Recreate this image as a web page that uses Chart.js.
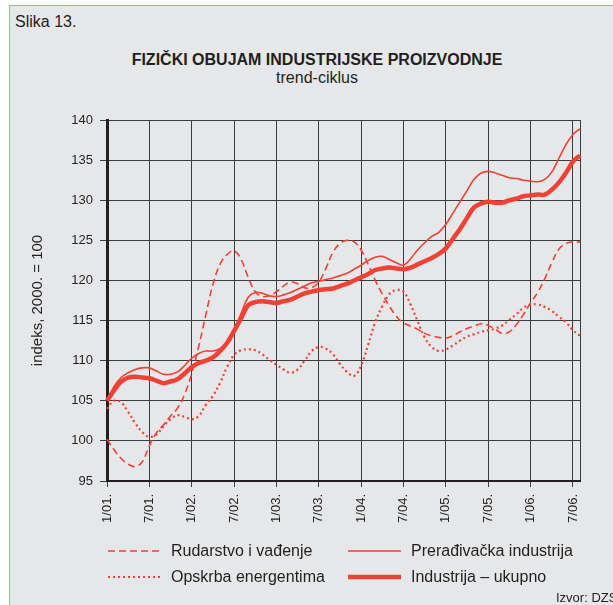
<!DOCTYPE html>
<html lang="hr">
<head>
<meta charset="UTF-8" />
<title>Slika 13. Fizički obujam industrijske proizvodnje</title>
<script src="https://cdn.jsdelivr.net/npm/chart.js"></script>
<style>
  body { margin: 0; width: 613px; height: 605px; position: relative; overflow: hidden;
         background: #ffffff; font-family: "Liberation Sans", Arial, sans-serif; color: #231f20; }
  #panel { position: absolute; left: 9px; top: 5px; width: 640px; height: 640px;
           background: #e6e7e8; border: 1px solid #f0928c; }
  .txt { position: absolute; white-space: nowrap; }
  #chartBox { position: absolute; left: 0; top: 0; }
  .leg { position: absolute; display: flex; align-items: center; font-size: 16px; height: 20px; }
  .leg svg { margin-right: 10px; }
</style>
</head>
<body>
<div id="panel"></div>
<div class="txt" style="left:15px; top:13px; font-size:16px;">Slika 13.</div>
<div class="txt" style="left:0; width:634px; top:51px; text-align:center; font-size:16px; font-weight:bold;">FIZIČKI OBUJAM INDUSTRIJSKE PROIZVODNJE</div>
<div class="txt" style="left:0; width:634px; top:69px; text-align:center; font-size:16px;">trend-ciklus</div>
<canvas id="chartBox" width="613" height="545"></canvas>
<div id="legend"></div>
<div class="txt" style="left:556px; top:590px; font-size:13px;">Izvor: DZS</div>

<script>
  // mjeseci 1/01. - 8/06.
  const months = [];
  for (let y = 1; y <= 6; y++) {
    for (let m = 1; m <= 12; m++) months.push(m + "/0" + y + ".");
  }
  months.length = 68;

  const tickLabels = ["1/01.", "7/01.", "1/02.", "7/02.", "1/03.", "7/03.", "1/04.", "7/04.", "1/05.", "7/05.", "1/06.", "7/06."];
  const yTicks = [95, 100, 105, 110, 115, 120, 125, 130, 135, 140];

  const seriesNames = ["Rudarstvo i vađenje", "Prerađivačka industrija", "Opskrba energentima", "Industrija – ukupno"];

  const rudarstvo = [
    100.2, 98.9, 97.8, 97.1, 96.8, 97.4, 99.4, 101.0, 102.0, 103.1, 104.1, 105.8,
    108.4, 111.8, 115.7, 119.5, 122.0, 123.2, 123.7, 122.6, 120.4, 118.6, 118.0, 118.1,
    118.6, 119.3, 119.8, 119.6, 119.1, 119.1, 119.8, 121.5, 123.5, 124.6, 125.0, 124.8,
    123.8, 122.0, 120.0, 118.3, 116.8, 115.5, 114.7, 114.3, 113.9, 113.4, 113.1, 112.9,
    112.8, 113.1, 113.6, 114.0, 114.3, 114.6, 114.4, 113.9, 113.4, 113.6, 114.5, 115.8,
    117.2, 118.5, 120.2, 122.2, 123.9, 124.6, 124.8, 124.8
  ];
  const preradjivacka = [
    105.0, 106.8, 107.9, 108.5, 108.9, 109.1, 109.1, 108.7, 108.3, 108.3, 108.6, 109.4,
    110.3, 110.9, 111.2, 111.2, 111.5, 112.3, 113.8, 115.9, 117.9, 118.5, 118.4, 118.1,
    118.0, 118.2, 118.5, 118.9, 119.3, 119.7, 119.9, 120.1, 120.3, 120.6, 120.9, 121.4,
    121.9, 122.5, 122.9, 123.0, 122.6, 122.2, 121.9, 122.7, 123.8, 124.7, 125.5, 126.0,
    127.0, 128.4, 129.8, 131.2, 132.6, 133.4, 133.6, 133.4, 133.1, 132.8, 132.7, 132.5,
    132.4, 132.3, 132.6, 133.5, 135.2, 136.9, 138.2, 138.9
  ];
  const opskrba = [
    104.0, 105.0, 104.8, 103.6, 102.2, 101.1, 100.5, 100.8, 101.8, 102.7, 103.2, 103.0,
    102.7, 103.1, 104.5, 105.6, 107.2, 109.2, 110.7, 111.3, 111.4, 111.3, 110.8, 110.1,
    109.5, 108.9, 108.5, 108.9, 110.0, 111.2, 111.7, 111.5, 110.8, 109.6, 108.6, 108.1,
    109.4, 112.0, 114.8, 116.8, 118.3, 118.8, 118.6, 117.0, 114.9, 112.9, 111.7, 111.2,
    111.4, 111.9, 112.5, 113.0, 113.3, 113.6, 113.8, 114.0, 114.4, 115.1, 115.8, 116.6,
    117.0, 117.0, 116.7, 116.2, 115.5, 114.8, 113.8, 113.1
  ];
  const ukupno = [
    105.0, 106.3, 107.4, 107.9, 108.0, 107.9, 107.8, 107.5, 107.2, 107.4, 107.7, 108.4,
    109.2, 109.7, 110.0, 110.4, 111.2, 112.2, 113.7, 115.3, 116.9, 117.3, 117.4, 117.3,
    117.2, 117.4, 117.6, 118.0, 118.4, 118.6, 118.8, 118.9, 119.0, 119.3, 119.6, 120.0,
    120.4, 120.8, 121.3, 121.5, 121.6, 121.5, 121.4, 121.6, 122.0, 122.4, 122.8, 123.3,
    124.0, 125.2, 126.4, 127.8, 129.1, 129.6, 129.8, 129.7, 129.7, 130.0, 130.2, 130.5,
    130.6, 130.7, 130.7, 131.3, 132.2, 133.4, 134.8, 135.6
  ];

  const red = "#ef4136";
  const gridCol = "#3c3c3c";

  Chart.defaults.font.family = "'Liberation Sans', Arial, sans-serif";
  Chart.defaults.color = "#231f20";

  const styles = [
    { data: rudarstvo, width: 1.6, dash: [7, 4] },
    { data: preradjivacka, width: 1.6, dash: [] },
    { data: opskrba, width: 2.2, dash: [2, 3] },
    { data: ukupno, width: 4.5, dash: [] }
  ];

  // redoslijed crtanja: tanke linije ispod, ukupno na vrhu
  const drawOrder = [0, 2, 1, 3];
  const datasets = drawOrder.map((i) => ({
    label: seriesNames[i],
    data: styles[i].data,
    borderColor: red,
    borderWidth: styles[i].width,
    borderDash: styles[i].dash,
    borderCapStyle: "butt",
    pointRadius: 0,
    tension: 0.4,
    fill: false
  }));

  new Chart(document.getElementById("chartBox"), {
    type: "line",
    data: { labels: months, datasets },
    options: {
      responsive: false,
      animation: false,
      layout: { padding: { left: 28, top: 120, right: 33, bottom: 0 } },
      plugins: { legend: { display: false }, tooltip: { enabled: false } },
      scales: {
        x: {
          offset: false,
          afterFit: (s) => { s.height = 64; },
          border: { display: true, color: "#231f20", width: 2 },
          grid: {
            drawTicks: true,
            tickLength: 6,
            lineWidth: 1,
            color: (c) => (c.index % 6 === 0 || c.index === months.length - 1 ? gridCol : "rgba(0,0,0,0)"),
            tickColor: (c) => (c.index % 6 === 0 ? gridCol : "rgba(0,0,0,0)")
          },
          ticks: {
            autoSkip: false,
            maxRotation: 90,
            minRotation: 90,
            padding: 7,
            font: { size: 13 },
            callback: (v, i) => (tickLabels.includes(months[i]) ? months[i] : "")
          }
        },
        y: {
          min: yTicks[0],
          max: yTicks[yTicks.length - 1],
          afterFit: (s) => { s.width = 79; },
          border: { display: true, color: "#231f20", width: 3 },
          grid: { color: gridCol, lineWidth: 1, tickLength: 7 },
          ticks: { stepSize: 5, padding: 7, font: { size: 13 } },
          title: {
            display: true,
            text: "indeks, 2000. = 100",
            font: { size: 15 },
            padding: { top: 1, bottom: 0 }
          }
        }
      }
    }
  });

  // legenda u dva stupca
  const legendPos = [
    { left: 108, top: 541 },
    { left: 348, top: 541 },
    { left: 108, top: 567 },
    { left: 348, top: 567 }
  ];
  const legend = document.getElementById("legend");
  seriesNames.forEach((name, i) => {
    const st = styles[i];
    const item = document.createElement("div");
    item.className = "leg";
    item.style.left = legendPos[i].left + "px";
    item.style.top = legendPos[i].top + "px";
    const dash = st.dash.length ? st.dash.join(" ") : "none";
    item.innerHTML =
      '<svg width="53" height="8"><line x1="0" y1="4" x2="53" y2="4" stroke="' + red +
      '" stroke-width="' + st.width + '" stroke-dasharray="' + dash + '"/></svg>' +
      "<span>" + name + "</span>";
    legend.appendChild(item);
  });
</script>
</body>
</html>
